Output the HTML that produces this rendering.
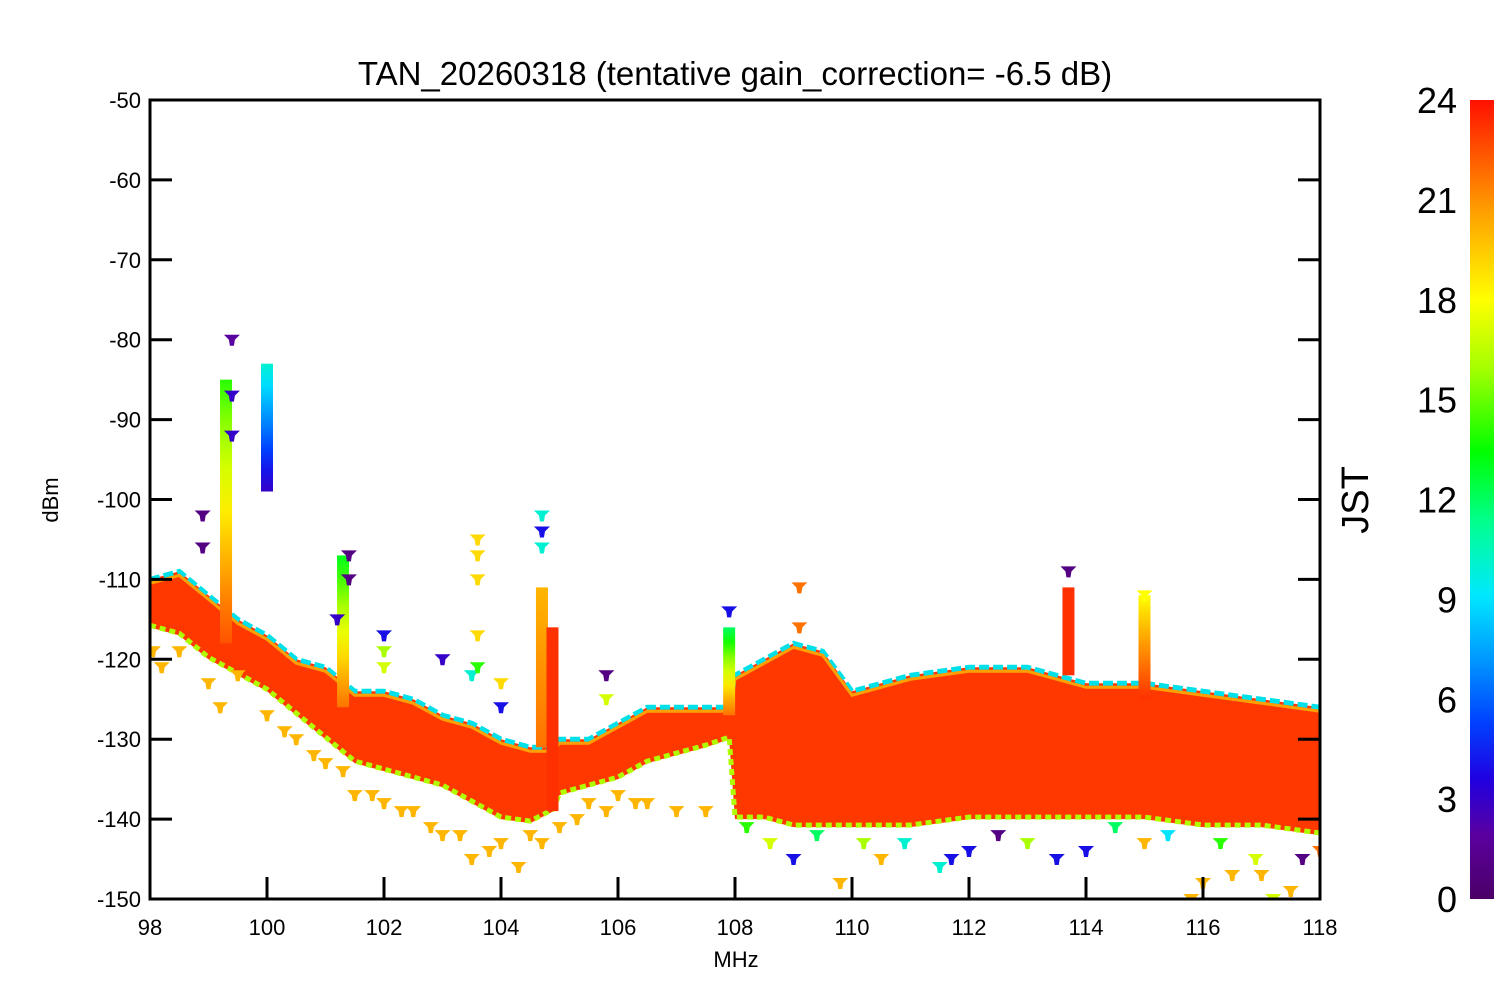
<!DOCTYPE html>
<html><head><meta charset="utf-8"><style>
html,body{margin:0;padding:0;background:#fff;}
svg text{font-family:"Liberation Sans",Arial,sans-serif;}
</style></head><body>
<svg id="chart" width="1500" height="1000" xmlns="http://www.w3.org/2000/svg" style="position:absolute;left:0;top:0">
<defs id="defs">
<linearGradient id="cbar" x1="0" y1="1" x2="0" y2="0">
<stop offset="0" stop-color="#4b0066"/>
<stop offset="0.08" stop-color="#5a00a0"/>
<stop offset="0.15" stop-color="#2000e0"/>
<stop offset="0.22" stop-color="#0040ff"/>
<stop offset="0.3" stop-color="#0098ff"/>
<stop offset="0.38" stop-color="#00e8ff"/>
<stop offset="0.47" stop-color="#00ff90"/>
<stop offset="0.56" stop-color="#00ff00"/>
<stop offset="0.66" stop-color="#a0ff00"/>
<stop offset="0.75" stop-color="#ffff00"/>
<stop offset="0.86" stop-color="#ffa000"/>
<stop offset="1" stop-color="#ff1000"/>
</linearGradient>
<clipPath id="plotclip"><rect x="150" y="100" width="1170" height="799"/></clipPath>
</defs>
<g id="plot" clip-path="url(#plotclip)"></g>
<g id="axes"></g>
<text x="735" y="85" text-anchor="middle" font-size="33">TAN_20260318 (tentative gain_correction= -6.5 dB)</text>
<text x="736" y="967" text-anchor="middle" font-size="22">MHz</text>
<text transform="translate(58,500) rotate(-90)" text-anchor="middle" font-size="22">dBm</text>
<text transform="translate(1368,500) rotate(-90)" text-anchor="middle" font-size="38">JST</text>
</svg>
<script>
// ---- data ----
const envFreq = [98,98.5,99,99.5,100,100.5,101,101.5,102,102.5,103,103.5,104,104.5,104.9,105,105.5,106,106.5,107,107.5,107.9,108,108.5,109,109.5,110,110.5,111,112,113,114,115,116,117,118];
const envTop  = [-110,-109,-112,-115,-117,-120,-121,-124,-124,-125,-127,-128,-130,-131,-131,-130,-130,-128,-126,-126,-126,-126,-122,-120,-118,-119,-124,-123,-122,-121,-121,-123,-123,-124,-125,-126];
const envBot  = [-116,-117,-120,-122,-124,-127,-130,-133,-134,-135,-136,-138,-140,-140.5,-139,-137,-136,-135,-133,-132,-131,-130,-140,-140,-141,-141,-141,-141,-141,-140,-140,-140,-140,-141,-141,-142];
const spikeFreq = [99.3,100,101.3,104.7,104.88,107.9,113.7,115];
const spikeTop  = [-85,-83,-107,-111,-116,-116,-111,-112];
const spikeBot  = [-118,-99,-126,-131,-139,-127,-122,-125];
const spikeHourTop = [14,10,13,20,24,12,24,18];
const spikeHourBot = [23,3,22,22,24,22,24,24];
const ptFreq = [98.05,98.2,98.5,99,99.2,99.5,100,100.3,100.5,100.8,101,101.3,101.5,101.8,102,102.3,102.5,102.8,103,103.3,103.5,103.8,104,104.3,104.5,104.7,105,105.3,105.5,105.8,106,106.3,106.5,107,107.5,
  98.9,98.9,99.4,99.4,99.4,101.4,101.4,101.2,102,102,102,103,103.5,103.6,103.6,103.6,103.6,103.6,104,104,104.7,104.7,104.7,105.8,105.8,107.9,109.1,109.1,113.7,115,
  108.2,108.6,109,109.4,109.8,110.2,110.5,110.9,111.5,111.7,112,112.5,113,113.5,114,114.5,115,115.4,115.8,116,116.3,116.5,116.9,117,117.2,117.5,117.7,118];
const ptDb   = [-119,-121,-119,-123,-126,-122,-127,-129,-130,-132,-133,-134,-137,-137,-138,-139,-139,-141,-142,-142,-145,-144,-143,-146,-142,-143,-141,-140,-138,-139,-137,-138,-138,-139,-139,
  -102,-106,-80,-87,-92,-107,-110,-115,-117,-119,-121,-120,-122,-105,-107,-110,-117,-121,-123,-126,-102,-104,-106,-122,-125,-114,-111,-116,-109,-112,
  -141,-143,-145,-142,-148,-143,-145,-143,-146,-145,-144,-142,-143,-145,-144,-141,-143,-142,-150,-148,-143,-147,-145,-147,-150,-149,-145,-144];
const ptHour = [20,20,20,20,20,20,20,20,20,20,20,20,20,20,20,20,20,20,20,20,20,20,20,20,20,20,20,20,20,20,20,20,20,20,20,
  1,1,2,3,3,1,1,3,4,16,17,3,10,19,19,19,19,14,19,4,10,4,10,1,17,4,22,22,1,18,
  14,17,4,12,20,16,20,10,10,4,4,1,16,4,4,12,20,9,20,20,14,20,17,20,17,20,1,22];
const yTicks = [-50,-60,-70,-80,-90,-100,-110,-120,-130,-140,-150];
const xTicks = [98,100,102,104,106,108,110,112,114,116,118];
const cbTicks = [0,3,6,9,12,15,18,21,24];

// ---- scales ----
const X0=150,X1=1320,Y0=100,Y1=899;
const xs = f => X0 + (f-98)/(118-98)*(X1-X0);
const ys = d => Y0 + (-50-d)/100*(Y1-Y0);
const NS="http://www.w3.org/2000/svg";
const cstops=[[0,[75,0,102]],[2,[90,0,160]],[3.6,[32,0,224]],[5.3,[0,64,255]],[7.2,[0,152,255]],[9.1,[0,232,255]],[11.3,[0,255,144]],[13.4,[0,255,0]],[15.8,[160,255,0]],[18,[255,255,0]],[20.6,[255,160,0]],[24,[255,48,0]]];
function hourColor(h){
  for(let i=1;i<cstops.length;i++){ if(h<=cstops[i][0]){const a=cstops[i-1],b=cstops[i];const t=(h-a[0])/(b[0]-a[0]);const c=a[1].map((v,k)=>Math.round(v+(b[1][k]-v)*t));return 'rgb('+c.join(',')+')';} }
  return 'rgb(255,48,0)';
}
function mk(tag,attrs,parent){const e=document.createElementNS(NS,tag);for(const k in attrs)e.setAttribute(k,attrs[k]);parent.appendChild(e);return e;}
const plotG=document.getElementById('plot'), axesG=document.getElementById('axes'), defsEl=document.getElementById('defs');

// band
const topPts=envFreq.map((f,i)=>xs(f)+','+ys(envTop[i]));
const botPts=envFreq.map((f,i)=>xs(f)+','+ys(envBot[i])).reverse();
const band=mk('polygon',{points:topPts.concat(botPts).join(' '),fill:'#ff3800'},plotG);


const topEdge=mk('polyline',{points:topPts.join(' '),fill:'none',stroke:'#00e0e8','stroke-width':5,'stroke-dasharray':'10 4'},plotG);


const topEdge2=mk('polyline',{points:envFreq.map((f,i)=>xs(f)+','+(ys(envTop[i])+4)).join(' '),fill:'none',stroke:'#ffa000','stroke-width':3},plotG);


const botEdge=mk('polyline',{points:envFreq.map((f,i)=>xs(f)+','+(ys(envBot[i])-2)).join(' '),fill:'none',stroke:'#b0ff00','stroke-width':5,'stroke-dasharray':'6 4'},plotG);



// spikes
spikeFreq.forEach((f,i)=>{
  const g=mk('linearGradient',{id:'sg'+i,x1:0,y1:0,x2:0,y2:1},defsEl);
  const n=6;for(let k=0;k<=n;k++){const h=spikeHourTop[i]+(spikeHourBot[i]-spikeHourTop[i])*k/n;mk('stop',{offset:k/n,'stop-color':hourColor(h)},g);}
  const r=mk('rect',{x:xs(f)-6,y:ys(spikeTop[i]),width:12,height:ys(spikeBot[i])-ys(spikeTop[i]),fill:'url(#sg'+i+')'},plotG);
  
  
});

// points
ptFreq.forEach((f,i)=>{
  const x=xs(f),y=ys(ptDb[i]);
  const p=mk('polygon',{points:`${x-8},${y-5} ${x+8},${y-5} ${x+3},${y} ${x+2},${y+6} ${x-2},${y+6} ${x-3},${y}`,fill:hourColor(ptHour[i])},plotG);
  
  
});

// axes frame
const frame=mk('rect',{x:X0,y:Y0,width:X1-X0,height:Y1-Y0,fill:'none',stroke:'#000','stroke-width':3},axesG);


yTicks.forEach(v=>{
  const y=ys(v);
  mk('line',{x1:X0,y1:y,x2:X0+22,y2:y,stroke:'#000','stroke-width':3},axesG);
  mk('line',{x1:X1,y1:y,x2:X1-22,y2:y,stroke:'#000','stroke-width':3},axesG);
  const t=mk('text',{x:141,y:y+8,'text-anchor':'end','font-size':22},axesG);t.textContent=v;
  
  
});
xTicks.forEach(v=>{
  const x=xs(v);
  mk('line',{x1:x,y1:Y1,x2:x,y2:Y1-22,stroke:'#000','stroke-width':3},axesG);
  const t=mk('text',{x:x,y:935,'text-anchor':'middle','font-size':22},axesG);t.textContent=v;
  
  
});
// colorbar
const cb=mk('rect',{x:1470,y:100,width:24,height:799,fill:'url(#cbar)'},axesG);


cbTicks.forEach(v=>{
  const y=899-v/24*799;
  const t=mk('text',{x:1457,y:y+13,'text-anchor':'end','font-size':36},axesG);t.textContent=v;
  
  
});
</script>
</body></html>
